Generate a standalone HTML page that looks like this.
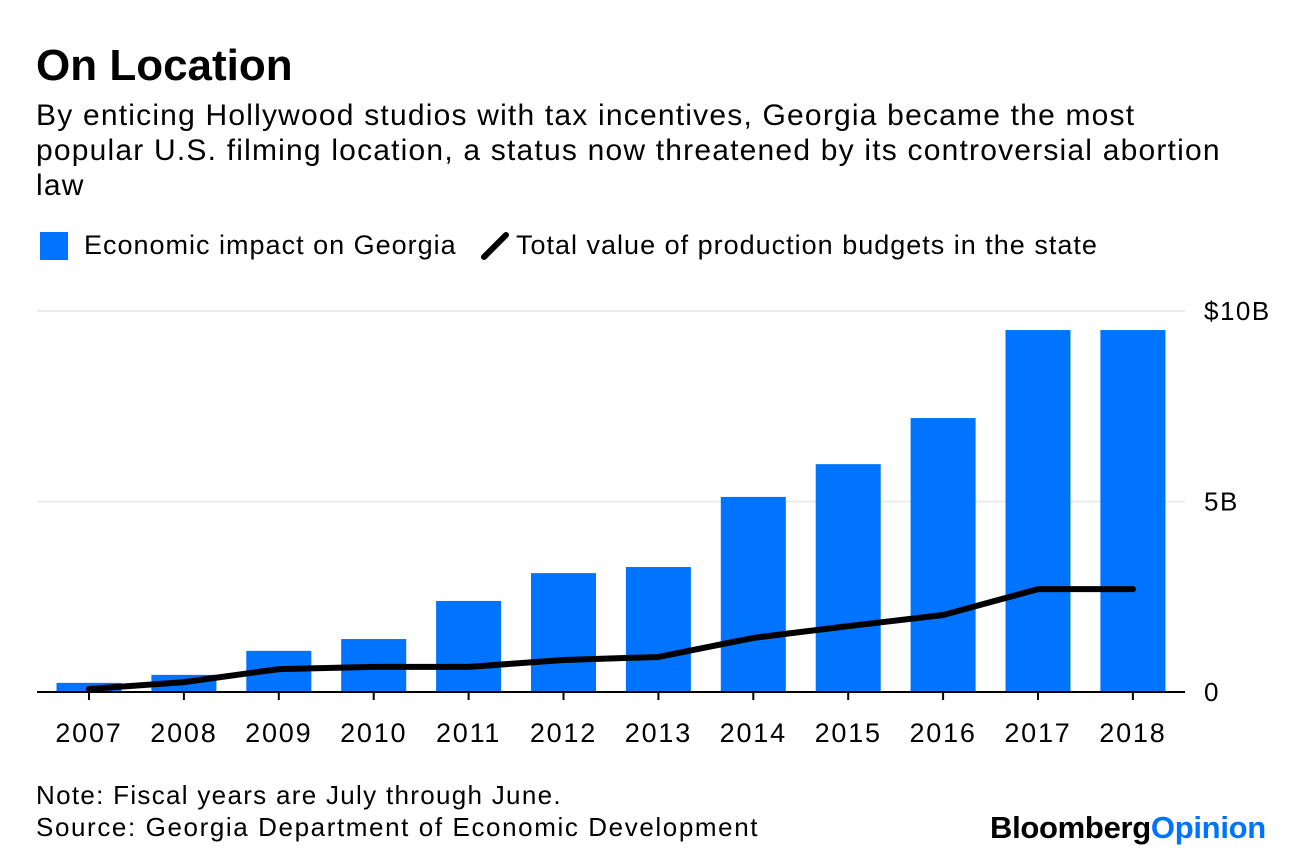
<!DOCTYPE html>
<html><head><meta charset="utf-8"><style>
body{margin:0;background:#fff;font-family:"Liberation Sans",sans-serif;color:#000}
#wrap{position:relative;width:1296px;height:860px;overflow:hidden}
.t{position:absolute;white-space:nowrap}
</style></head><body>
<div id="wrap">
<div class="t" style="left:36px;top:41px;font-size:44px;font-weight:bold;letter-spacing:0px">On Location</div>
<div class="t" style="left:36px;top:98px;font-size:30px;line-height:35px;letter-spacing:1.2px">By enticing Hollywood studios with tax incentives, Georgia became the most<br>popular U.S. filming location, a status now threatened by its controversial abortion<br>law</div>
<div style="position:absolute;left:40px;top:232px;width:28px;height:28px;background:#0073ff"></div>
<div class="t" style="left:84px;top:230px;font-size:27px;letter-spacing:1px">Economic impact on Georgia</div>
<svg style="position:absolute;left:479px;top:230px" width="32" height="32"><line x1="5" y1="27" x2="27" y2="5" stroke="#000" stroke-width="6" stroke-linecap="round"/></svg>
<div class="t" style="left:516px;top:230px;font-size:27px;letter-spacing:1px">Total value of production budgets in the state</div>
<svg id="chart" width="1296" height="860" style="position:absolute;left:0;top:0"></svg>
<div class="t" style="left:36px;top:780px;font-size:26px;letter-spacing:1.3px">Note: Fiscal years are July through June.</div>
<div class="t" style="left:36px;top:812px;font-size:26px;letter-spacing:1.6px">Source: Georgia Department of Economic Development</div>
<div class="t" style="left:990px;top:810px;font-size:31px;font-weight:bold;letter-spacing:-0.3px">Bloomberg<span style="color:#0073ff">Opinion</span></div>
</div>
<script>
const years=["2007","2008","2009","2010","2011","2012","2013","2014","2015","2016","2017","2018"];
const impact=[0.24,0.45,1.08,1.39,2.39,3.12,3.28,5.12,5.98,7.19,9.5,9.5];
const budgets=[0.08,0.26,0.6,0.66,0.66,0.84,0.92,1.42,1.73,2.02,2.7,2.7];
const yTicks=[0,5,10];
const yTickLabels=["0","5B","$10B"];
const NS="http://www.w3.org/2000/svg";
const svg=document.getElementById('chart');
const x0=89,step=94.9,bw=65,y0=692,yScale=38.1;
const X=i=>x0+i*step, Y=v=>y0-v*yScale;
function mk(t,a){const e=document.createElementNS(NS,t);for(const k in a)e.setAttribute(k,a[k]);svg.appendChild(e);return e;}
yTicks.forEach((v,i)=>{
  if(v>0){const g=mk('line',{x1:37,x2:1185,y1:Y(v),y2:Y(v),stroke:'#ebebeb','stroke-width':2});
  
  }
  const t=mk('text',{x:1204,y:Y(v)+9,'font-size':26,'letter-spacing':1.5,'font-family':'Liberation Sans, sans-serif'});
  t.textContent=yTickLabels[i];
  
  
});
impact.forEach((v,i)=>{
  const r=mk('rect',{x:X(i)-bw/2,y:Y(v),width:bw,height:v*yScale,fill:'#0073ff'});
  
  
});
const base=mk('line',{x1:37,x2:1185,y1:y0,y2:y0,stroke:'#000','stroke-width':2});


years.forEach((y,i)=>{
  const tk=mk('line',{x1:X(i),x2:X(i),y1:y0,y2:y0+8,stroke:'#000','stroke-width':2});
  
  
  const t=mk('text',{x:X(i),y:y0+50,'font-size':27,'letter-spacing':1.8,'text-anchor':'middle','font-family':'Liberation Sans, sans-serif'});
  t.textContent=y;
  
  
});
const p=mk('polyline',{points:budgets.map((v,i)=>X(i)+','+Y(v)).join(' '),fill:'none',stroke:'#000','stroke-width':6,'stroke-linejoin':'round','stroke-linecap':'round'});


</script>
</body></html>
